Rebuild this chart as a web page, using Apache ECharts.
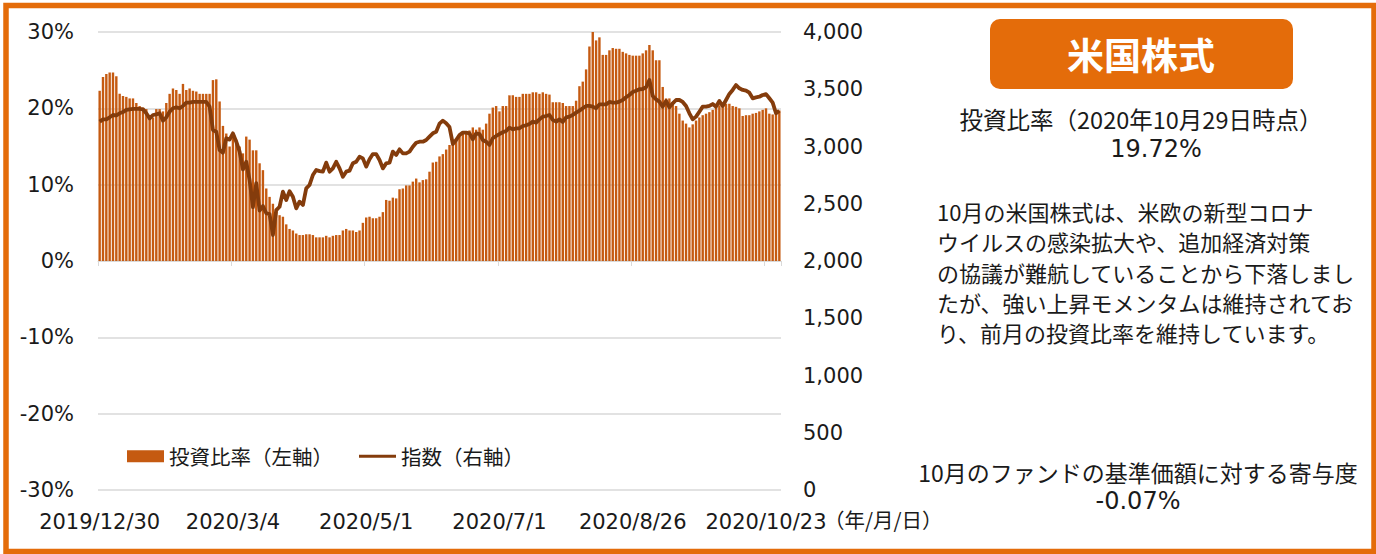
<!DOCTYPE html>
<html>
<head>
<meta charset="utf-8">
<script src="https://cdn.jsdelivr.net/npm/echarts@6/dist/echarts.min.js"></script>
<style>
html, body { margin: 0; padding: 0; background: #fff; }
#chart { width: 1376px; height: 554px; }
</style>
</head>
<body>
<div id="chart"></div>
<script>
// business days shown on the chart: weekdays minus these closed days
const firstDay = [2019, 12, 30]
const lastDay = [2020, 10, 29]
const holidays = ['2019-12-31', '2020-01-01', '2020-01-02', '2020-01-03', '2020-01-13', '2020-02-11', '2020-02-24',
    '2020-03-20', '2020-04-29', '2020-05-04', '2020-05-05', '2020-05-06', '2020-09-21', '2020-09-22']

// 投資比率 (%), left axis
const investRatio = [
    22.3, 24.1, 24.5, 24.7, 24.7, 24.2, 21.9, 21.6, 21.5, 21.3,
    21.3, 20.7, 20.3, 20.1, 19.9, 19.1, 18.8, 19.9, 19.9, 19.6,
    20.7, 21.9, 22.6, 22.4, 21.9, 23.2, 22.4, 22.6, 22.3, 22.2,
    21.9, 21.9, 21.9, 21.9, 23.7, 23.8, 20.9, 17.7, 16.7, 15.0,
    16.7, 15.9, 15.0, 14.1, 16.3, 15.9, 14.5, 14.5, 12.8, 11.9,
    9.5, 8.4, 7.5, 6.7, 6.0, 5.8, 4.8, 4.2, 4.0, 3.6,
    3.4, 3.4, 3.5, 3.5, 3.4, 3.1, 3.1, 3.1, 3.3, 3.1,
    3.3, 3.4, 3.4, 4.0, 4.2, 4.0, 4.0, 3.8, 4.0, 5.0,
    5.7, 5.8, 5.6, 5.6, 5.8, 6.4, 8.0, 7.9, 8.3, 8.2,
    9.4, 9.5, 9.9, 9.9, 10.4, 10.8, 10.3, 10.6, 10.7, 11.7,
    12.9, 13.0, 13.7, 14.0, 14.6, 15.2, 15.3, 15.9, 16.4, 16.9,
    16.8, 17.1, 17.5, 17.2, 17.5, 17.2, 18.0, 19.3, 20.1, 20.3,
    19.6, 20.3, 20.3, 21.7, 21.7, 21.5, 21.5, 21.9, 21.9, 21.9,
    22.1, 22.1, 21.9, 22.1, 21.9, 21.8, 20.8, 20.8, 20.8, 20.7,
    20.3, 20.3, 20.3, 21.0, 22.9, 23.5, 25.1, 28.1, 30.1, 28.9,
    29.3, 27.0, 27.0, 27.6, 27.9, 27.8, 27.8, 27.4, 27.2, 27.0,
    26.9, 26.9, 26.9, 27.2, 27.6, 28.3, 27.6, 26.3, 26.3, 22.8,
    21.3, 21.3, 20.7, 20.3, 19.3, 18.4, 18.0, 17.5, 17.9, 18.4,
    18.8, 19.1, 19.3, 19.5, 19.8, 20.1, 20.4, 20.3, 20.6, 20.6,
    20.3, 20.2, 20.0, 19.0, 19.1, 19.1, 19.3, 19.4, 19.6, 19.8,
    20.0, 19.3, 19.2, 19.4, 19.72
]

// 指数, right axis
const indexValue = [
    3217, 3237, 3237, 3255, 3275, 3272, 3290, 3301, 3319, 3325,
    3328, 3328, 3328, 3325, 3290, 3246, 3275, 3281, 3290, 3226,
    3255, 3304, 3334, 3342, 3334, 3354, 3383, 3383, 3389, 3389,
    3389, 3389, 3389, 3348, 3144, 3129, 2969, 2946, 3072, 3060,
    3115, 3042, 2955, 2800, 2867, 2707, 2470, 2680, 2440, 2480,
    2417, 2410, 2227, 2445, 2474, 2605, 2533, 2610, 2562, 2460,
    2518, 2489, 2635, 2664, 2751, 2795, 2785, 2780, 2859, 2780,
    2809, 2867, 2809, 2736, 2780, 2789, 2853, 2867, 2911, 2896,
    2824, 2888, 2934, 2934, 2882, 2809, 2853, 2859, 2955, 2926,
    2975, 2940, 2940, 2955, 2998, 3033, 3042, 3042, 3057, 3086,
    3115, 3129, 3200, 3226, 3203, 3170, 3022, 3057, 3100, 3121,
    3121, 3115, 3063, 3115, 3109, 3057, 3042, 3013, 3072, 3092,
    3109, 3124, 3135, 3165, 3150, 3159, 3159, 3179, 3185, 3197,
    3217, 3209, 3237, 3261, 3266, 3275, 3232, 3217, 3237, 3215,
    3255, 3261, 3275, 3296, 3313, 3334, 3354, 3354, 3348, 3334,
    3368, 3368, 3368, 3389, 3383, 3383, 3392, 3406, 3430, 3450,
    3476, 3487, 3500, 3502, 3517, 3581, 3441, 3412, 3392, 3348,
    3398, 3342, 3377, 3406, 3406, 3389, 3354, 3290, 3237, 3261,
    3304, 3348, 3348, 3354, 3371, 3348, 3398, 3354, 3406, 3459,
    3494, 3537, 3508, 3494, 3488, 3470, 3421, 3429, 3435, 3450,
    3458, 3421, 3383, 3290, 3313
]

const seriesNames = ['投資比率（左軸）', '指数（右軸）']
const labelEvery = 40   // 2019/12/30, 2020/3/4, 2020/5/1 ...

const fontFamily = "'DejaVu Sans', 'Noto Sans CJK JP', sans-serif"
const jpFont = "'Noto Sans CJK JP', sans-serif"
const textColor = '#1a1a1a'
const orange = '#E46C0A'
const barColor = '#C55A11'
const lineColor = '#843C0C'

function buildDates() {
    let list = []
    let d = Date.UTC(firstDay[0], firstDay[1] - 1, firstDay[2])
    let end = Date.UTC(lastDay[0], lastDay[1] - 1, lastDay[2])
    while (d <= end) {
        let t = new Date(d)
        let wd = t.getUTCDay()
        let iso = t.toISOString().slice(0, 10)
        if (wd !== 0 && wd !== 6 && holidays.indexOf(iso) < 0) {
            list.push(t.getUTCFullYear() + '/' + (t.getUTCMonth() + 1) + '/' + t.getUTCDate())
        }
        d += 86400000
    }
    return list
}
const dates = buildDates()

let myChart = echarts.init(document.getElementById('chart'), null, { renderer: 'svg' })
let option = {
    animation: false,
    grid: { left: 98, right: 595, top: 32, bottom: 64 },
    legend: {
        left: 122,
        top: 441,
        itemWidth: 37,
        itemHeight: 12,
        itemGap: 26,
        textStyle: { fontSize: 20.5, fontFamily: jpFont, color: textColor },
        data: [
            { name: seriesNames[0], icon: 'rect' },
            // thin bar, padded to the full icon box by the two move-to points
            { name: seriesNames[1], icon: 'path://M0,0 M0,4.3 L40,4.3 L40,7.7 L0,7.7 Z M40,12' }
        ]
    },
    xAxis: [
        {
            type: 'category',
            data: dates,
            axisLine: { onZero: true, lineStyle: { color: '#D9D9D9', width: 1 } },
            axisTick: { show: true, interval: labelEvery - 1, length: 5, lineStyle: { color: '#D9D9D9' } },
            axisLabel: { show: false }
        },
        {
            type: 'category',
            data: dates,
            position: 'bottom',
            axisLine: { show: false, onZero: false },
            axisTick: { show: false },
            axisLabel: {
                interval: labelEvery - 1,
                margin: 21,
                fontSize: 21,
                fontFamily,
                color: textColor
            }
        }
    ],
    yAxis: [
        {
            type: 'value',
            min: -30,
            max: 30,
            interval: 10,
            axisLine: { show: false },
            axisTick: { show: false },
            axisLabel: { margin: 24, fontSize: 21, fontFamily, color: textColor, formatter: v => v + '%' },
            splitLine: { lineStyle: { color: '#D9D9D9', width: 1.5 } }
        },
        {
            type: 'value',
            min: 0,
            max: 4000,
            interval: 500,
            axisLine: { show: false },
            axisTick: { show: false },
            splitLine: { show: false },
            axisLabel: {
                margin: 22,
                fontSize: 21,
                fontFamily,
                color: textColor,
                formatter: v => v.toLocaleString('en-US')
            }
        }
    ],
    series: [
        {
            name: seriesNames[0],
            type: 'bar',
            xAxisIndex: 0,
            yAxisIndex: 0,
            barCategoryGap: '28%',
            itemStyle: { color: barColor },
            data: investRatio
        },
        {
            name: seriesNames[1],
            type: 'line',
            xAxisIndex: 0,
            yAxisIndex: 1,
            symbol: 'none',
            lineStyle: { color: lineColor, width: 3.8, join: 'round' },
            itemStyle: { color: lineColor },
            data: indexValue
        }
    ],
    graphic: [
        {
            type: 'text',
            left: 824,
            top: 509,
            style: { text: '（年/月/日）', fontSize: 20.5, fontFamily: jpFont, fill: textColor }
        },
        {
            type: 'rect',
            shape: { x: 990, y: 19, width: 303, height: 70, r: 10 },
            style: { fill: orange }
        },
        {
            type: 'text',
            x: 1141, y: 54,
            style: { text: '米国株式', fontSize: 37, fontWeight: 'bold', fontFamily: jpFont, fill: '#fff', align: 'center', verticalAlign: 'middle' }
        },
        {
            type: 'text',
            x: 1141, y: 119,
            style: { text: '投資比率（2020年10月29日時点）', fontSize: 23.5, lineHeight: 26, fontFamily: jpFont, fill: textColor, align: 'center', verticalAlign: 'middle' }
        },
        {
            type: 'text',
            x: 1156, y: 149,
            style: { text: '19.72%', fontSize: 24, lineHeight: 26, fontFamily, fill: textColor, align: 'center', verticalAlign: 'middle' }
        },
        {
            type: 'text',
            x: 937, y: 196,
            style: {
                text: '10月の米国株式は、米欧の新型コロナ\nウイルスの感染拡大や、追加経済対策\nの協議が難航していることから下落しまし\nたが、強い上昇モメンタムは維持されてお\nり、前月の投資比率を維持しています。',
                fontSize: 22, lineHeight: 30.3, fontFamily: jpFont, fill: textColor, align: 'left', verticalAlign: 'top'
            }
        },
        {
            type: 'text',
            x: 1138, y: 472,
            style: { text: '10月のファンドの基準価額に対する寄与度', fontSize: 23, lineHeight: 25, fontFamily: jpFont, fill: textColor, align: 'center', verticalAlign: 'middle' }
        },
        {
            type: 'text',
            x: 1138, y: 501,
            style: { text: '-0.07%', fontSize: 24, lineHeight: 26, fontFamily, fill: textColor, align: 'center', verticalAlign: 'middle' }
        },
        {
            type: 'rect',
            z: 100,
            shape: { x: 6, y: 5.5, width: 1368, height: 546 },
            style: { fill: 'none', stroke: orange, lineWidth: 5.5 }
        }
    ]
}
myChart.setOption(option)
</script>
</body>
</html>
